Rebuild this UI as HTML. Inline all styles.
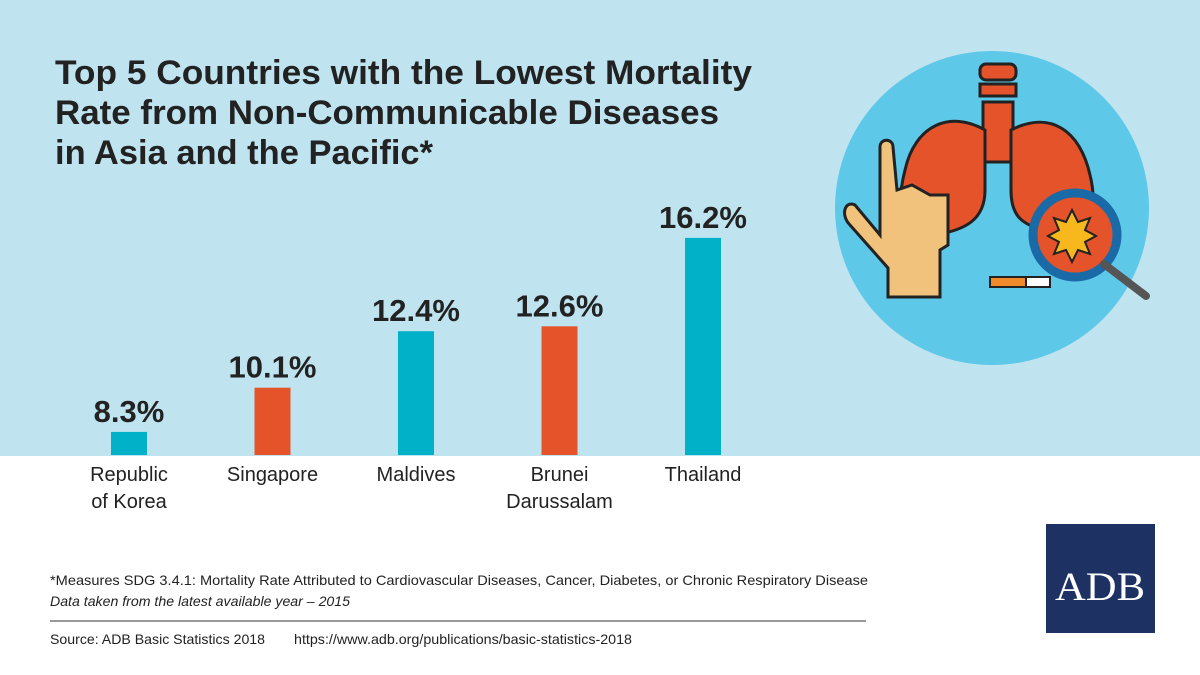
<!DOCTYPE html>
<html><head><meta charset="utf-8"><style>
body{margin:0;width:1200px;height:675px;overflow:hidden;background:#fff}
svg{display:block;font-family:"Liberation Sans",sans-serif}
</style></head><body>
<svg width="1200" height="675" viewBox="0 0 1200 675">
<rect x="0" y="0" width="1200" height="456" fill="#bfe4f0"/>
<g font-weight="bold" font-size="34" fill="#222">
<text x="55" y="84" textLength="697" lengthAdjust="spacingAndGlyphs">Top 5 Countries with the Lowest Mortality</text>
<text x="55" y="124" textLength="664" lengthAdjust="spacingAndGlyphs">Rate from Non-Communicable Diseases</text>
<text x="55" y="164" textLength="378" lengthAdjust="spacingAndGlyphs">in Asia and the Pacific*</text>
</g>
<g>
<circle cx="992" cy="208" r="157" fill="#5ec8e8"/>
<g stroke="#222" stroke-width="3">
<rect x="980" y="64" width="36" height="16" rx="6" fill="#e4532a"/>
<rect x="980" y="84" width="36" height="12" fill="#e4532a"/>
<rect x="983" y="102" width="30" height="60" fill="#e4532a"/>
<path d="M985 130 C950 110 915 125 905 170 C895 210 900 240 935 235 C965 230 985 220 985 190 Z" fill="#e4532a"/>
<path d="M1011 130 C1050 110 1080 130 1090 175 C1100 215 1085 240 1050 232 C1020 225 1011 215 1011 190 Z" fill="#e4532a"/>
<path d="M855 205 C845 200 840 215 850 225 L888 268 L888 297 L940 297 L940 250 L948 245 L948 195 L930 195 L912 185 L897 190 L893 147 C893 138 880 138 880 147 L880 235 Z" fill="#f0c27c"/>
<circle cx="1075" cy="235" r="42" fill="#e4532a" stroke="#1a6aa8" stroke-width="9"/>
<line x1="1104" y1="264" x2="1146" y2="296" stroke="#555" stroke-width="8" stroke-linecap="round"/>
<polygon points="1072,210 1078,222 1090,218 1085,230 1096,236 1085,242 1090,254 1078,250 1072,262 1066,250 1054,254 1059,242 1048,236 1059,230 1054,218 1066,222" fill="#f6b81c" stroke-width="2"/>
<rect x="990" y="277" width="60" height="10" fill="#fff" stroke-width="2"/>
<rect x="990" y="277" width="36" height="10" fill="#f08a2a" stroke-width="2"/>
</g>
</g>
<g id="bars"></g>
<g fill="#222" font-size="14">
<text x="50" y="585" textLength="818" lengthAdjust="spacingAndGlyphs">*Measures SDG 3.4.1: Mortality Rate Attributed to Cardiovascular Diseases, Cancer, Diabetes, or Chronic Respiratory Disease</text>
<text x="50" y="606" font-style="italic" textLength="300" lengthAdjust="spacingAndGlyphs">Data taken from the latest available year – 2015</text>
<line x1="50" y1="621" x2="866" y2="621" stroke="#777" stroke-width="1.5"/>
<text x="50" y="644" textLength="215" lengthAdjust="spacingAndGlyphs">Source: ADB Basic Statistics 2018</text>
<text x="294" y="644" textLength="338" lengthAdjust="spacingAndGlyphs">https://www.adb.org/publications/basic-statistics-2018</text>
</g>
<g>
<rect x="1046" y="524" width="109" height="109" fill="#1d3162"/>
<text x="1100" y="600" text-anchor="middle" fill="#fff" font-family="Liberation Serif,serif" font-size="40" textLength="90" lengthAdjust="spacingAndGlyphs">ADB</text>
</g>
</svg>
<script>
const categories=[["Republic","of Korea"],["Singapore"],["Maldives"],["Brunei","Darussalam"],["Thailand"]];
const values=[8.3,10.1,12.4,12.6,16.2];
const valueLabels=["8.3%","10.1%","12.4%","12.6%","16.2%"];
const colors=["#00b1c8","#e4532a","#00b1c8","#e4532a","#00b1c8"];
const NS="http://www.w3.org/2000/svg";
const g=document.getElementById('bars');
const base=455,yMin=7.36,pxPer=24.56;
const y=v=>base-(v-yMin)*pxPer;
const x=i=>129+i*143.5;
function mk(t,a){const e=document.createElementNS(NS,t);for(const k in a)e.setAttribute(k,a[k]);g.appendChild(e);return e;}
values.forEach((v,i)=>{
 const r=mk('rect',{x:x(i)-18,y:y(v),width:36,height:base-y(v),fill:colors[i]});
 
 
 const t=mk('text',{x:x(i),y:y(v)-10,'text-anchor':'middle','font-size':'31','font-weight':'bold',fill:'#222'});
 t.textContent=valueLabels[i];
 
 
 categories[i].forEach((l,j)=>{
  const c=mk('text',{x:x(i),y:481+j*27,'text-anchor':'middle','font-size':'20',fill:'#222'});
  c.textContent=l;
  
  
 });
});
</script>
</body></html>
